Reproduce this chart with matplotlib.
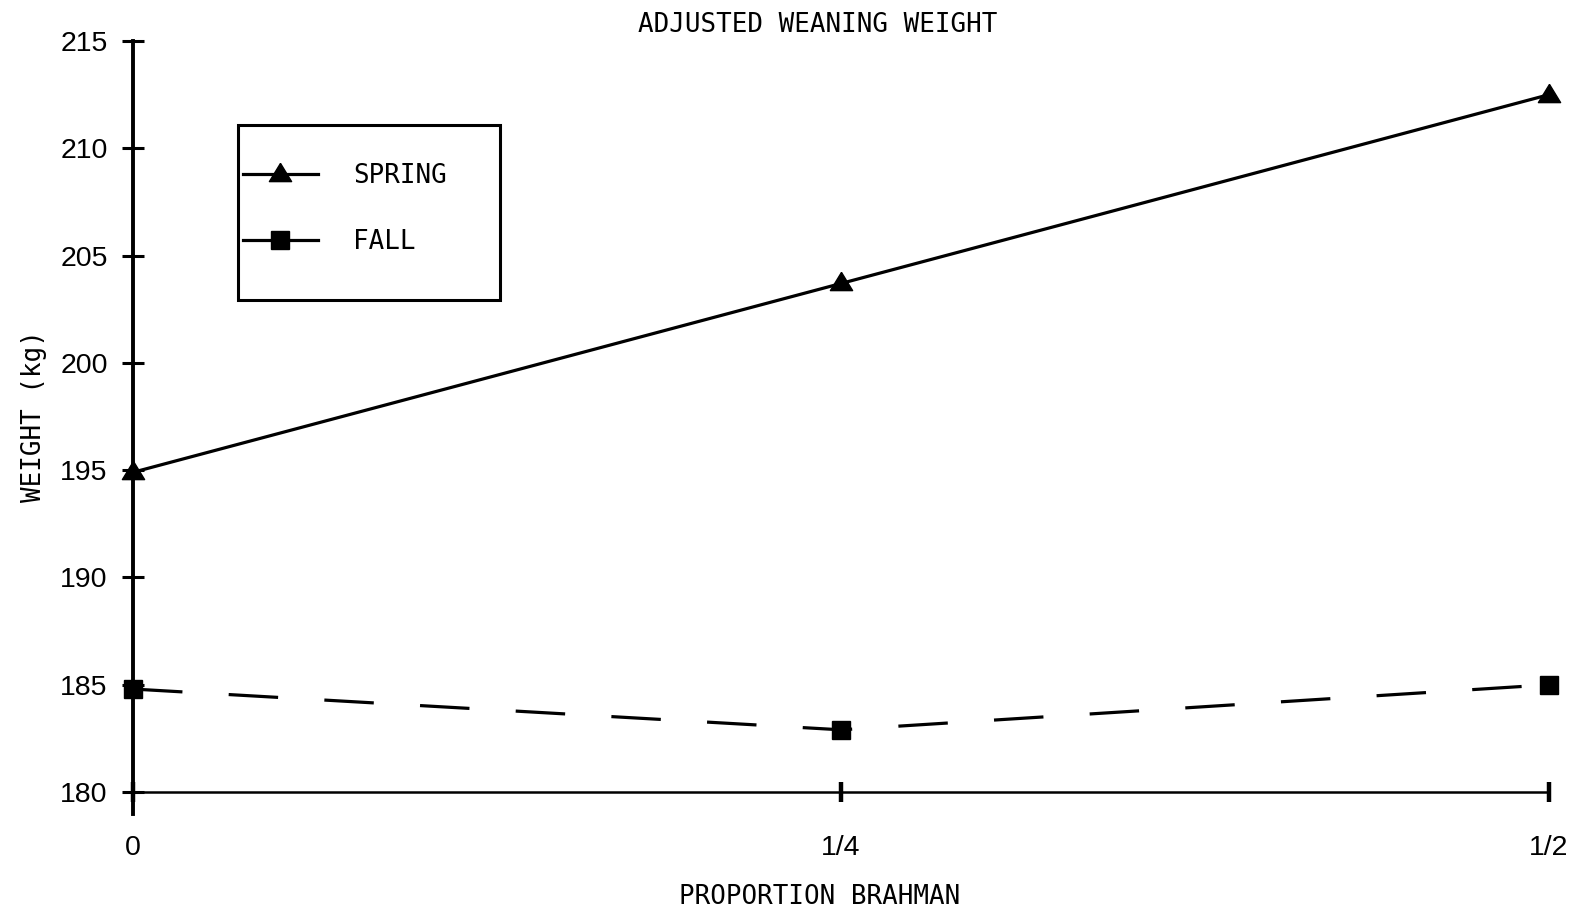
"""
Adjusted weaning weight by proportion Brahman, spring vs fall calving.
Writes out.png (1594x913).
"""
import matplotlib
matplotlib.use("Agg")
import matplotlib.pyplot as plt
from matplotlib.lines import Line2D
from matplotlib.patches import Rectangle

# ---- data ----
PROPORTION   = [0.0, 0.25, 0.5]
XTICK_LABELS = ["0", "1/4", "1/2"]
SPRING_KG    = [194.9, 203.7, 212.5]
FALL_KG      = [184.8, 182.9, 185.0]
YTICKS       = [180, 185, 190, 195, 200, 205, 210, 215]

MONO = "DejaVu Sans Mono"
SANS = "Liberation Sans"
TXT_SIZE  = 18.6
TICK_SIZE = 20.5

LINE_W = 2.3
# triangle with the data point in its lower third, like the original plotter
TRI = [(0.0, 1.0), (-1.0, -0.64), (1.0, -0.64), (0.0, 1.0)]
TRI_SIZE = 16
SQ_SIZE  = 12.5
DASH = (0, (15.5, 14.5))

fig = plt.figure(figsize=(15.94, 9.13), dpi=100)
fig.patch.set_facecolor("white")
ax = fig.add_axes([133 / 1594, 1 - 813.5 / 913, (1549 - 133) / 1594, (813.5 - 41) / 913])

ax.plot(PROPORTION, SPRING_KG, color="black", linewidth=LINE_W,
        marker=TRI, markersize=TRI_SIZE, clip_on=False, zorder=4)
ax.plot(PROPORTION, FALL_KG, color="black", linewidth=LINE_W, linestyle=DASH,
        marker="s", markersize=SQ_SIZE, clip_on=False, zorder=4)

ax.set_xlim(0, 0.5)
ax.set_ylim(179, 215)
ax.set_xticks(PROPORTION)
ax.set_xticklabels(XTICK_LABELS)
ax.set_yticks(YTICKS)

for side in ("top", "right"):
    ax.spines[side].set_visible(False)
ax.spines["left"].set_bounds(179, 215)
ax.spines["left"].set_linewidth(2.8)
ax.spines["bottom"].set_position(("data", 180))
ax.spines["bottom"].set_linewidth(1.8)

ax.tick_params(axis="y", direction="inout", length=16.5, width=2.2, pad=10,
               labelsize=TICK_SIZE)
ax.tick_params(axis="x", direction="inout", length=14.5, width=3.2, pad=24,
               labelsize=TICK_SIZE)
for lab in ax.get_xticklabels() + ax.get_yticklabels():
    lab.set_fontfamily(SANS)

fig.text(818 / 1594, 1 - 25 / 913, "ADJUSTED WEANING WEIGHT", family=MONO,
         fontsize=TXT_SIZE, ha="center", va="center")
fig.text(820 / 1594, 1 - 897 / 913, "PROPORTION BRAHMAN", family=MONO,
         fontsize=TXT_SIZE, ha="center", va="center")
fig.text(34 / 1594, 1 - 416 / 913, "WEIGHT (kg)", family=MONO,
         fontsize=TXT_SIZE, ha="center", va="center", rotation=90)

# legend: entries without frame, frame drawn as its own box
handles = [
    Line2D([], [], color="black", linewidth=LINE_W, marker=TRI, markersize=TRI_SIZE),
    Line2D([], [], color="black", linewidth=LINE_W, marker="s", markersize=SQ_SIZE),
]
fig.legend(handles, ["SPRING", "FALL"], loc="center left",
           bbox_to_anchor=(243 / 1594, 1 - 209 / 913), bbox_transform=fig.transFigure,
           frameon=False, borderpad=0, borderaxespad=0, numpoints=1,
           handlelength=2.9, handletextpad=1.35, labelspacing=1.52,
           prop={"family": MONO, "size": TXT_SIZE})
fig.patches.append(Rectangle((238 / 1594, 1 - 300 / 913), 262 / 1594, 175 / 913,
                             transform=fig.transFigure, fill=False,
                             edgecolor="black", linewidth=2.2))

fig.savefig("out.png", dpi=100, facecolor=fig.get_facecolor())
